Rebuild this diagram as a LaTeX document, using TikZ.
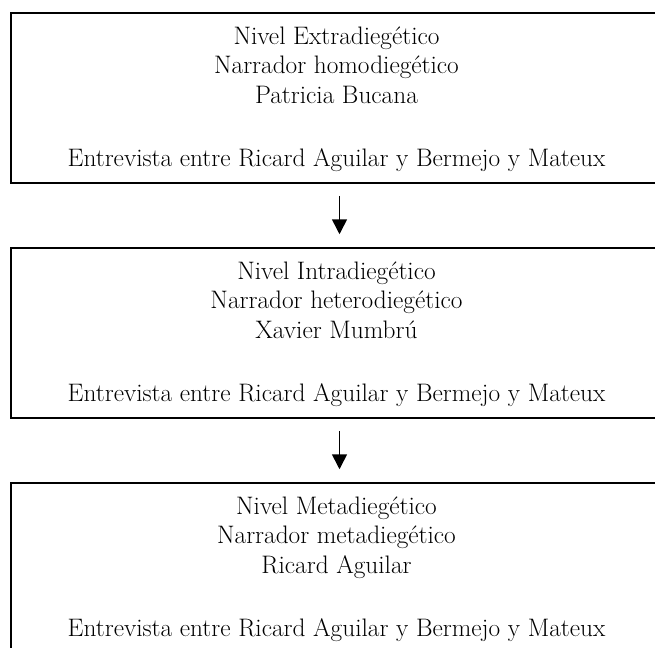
\documentclass[tikz,border=0pt]{standalone}
\usepackage{fontspec}
\setmainfont{Latin Modern Roman}
\usetikzlibrary{arrows.meta,calc}

\begin{document}
\begin{tikzpicture}[x=1pt,y=1pt,yscale=-1,
    nivel/.style={draw, line width=1.5pt, minimum width=651pt, minimum height=170pt, inner sep=0pt},
    texto/.style={anchor=north, align=center, inner sep=0pt, font=\fontsize{25.3}{29.5}\selectfont},
    flecha/.style={line width=1.6pt, -{Triangle[width=15pt,length=15pt]}}]
        \useasboundingbox (0,0) rectangle (655,647);

        %Shape: Rectangle [nivel extradiegetico]
        \node[nivel] (extra) at (336.5,98) {};
        %Shape: Rectangle [nivel intradiegetico]
        \node[nivel] (intra) at (336.5,333) {};
        %Shape: Rectangle [nivel metadiegetico]
        \node[nivel] (meta) at (336.5,568) {};

        % Text Node
        \node[texto] (extraTxt) at ($(extra.north)+(0,14.3)$) {Nivel Extradiegético\\Narrador homodiegético\\Patricia Bucana\\[33.5pt]Entrevista entre Ricard Aguilar y Bermejo y Mateux};
        % Text Node
        \node[texto] (intraTxt) at ($(intra.north)+(0,14.3)$) {Nivel Intradiegético\\Narrador heterodiegético\\Xavier Mumbrú\\[33.5pt]Entrevista entre Ricard Aguilar y Bermejo y Mateux};
        % Text Node
        \node[texto] (metaTxt) at ($(meta.north)+(0,14.3)$) {Nivel Metadiegético\\Narrador metadiegético\\Ricard Aguilar\\[33.5pt]Entrevista entre Ricard Aguilar y Bermejo y Mateux};

        %Straight Lines [flechas]
        \draw[flecha] ($(extra.south)+(3,12)$) -- ($(intra.north)+(3,-13)$);
        \draw[flecha] ($(intra.south)+(3,12)$) -- ($(meta.north)+(3,-13)$);
\end{tikzpicture}
\end{document}
